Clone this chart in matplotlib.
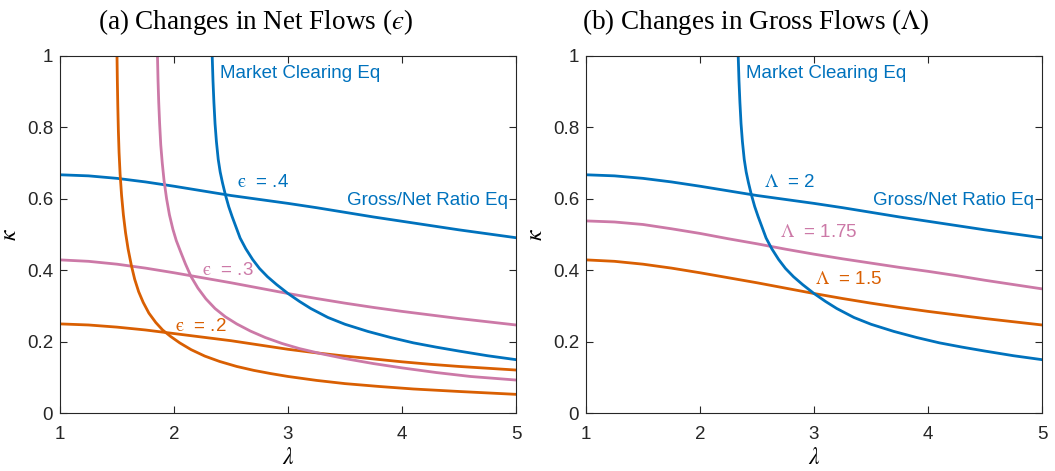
import matplotlib
matplotlib.use("Agg")
import matplotlib.pyplot as plt

plt.rcParams['mathtext.fontset'] = 'stix'
plt.rcParams['font.family'] = ['Liberation Sans', 'DejaVu Sans']

# colours (MATLAB-like)
BLUE = '#0072BD'
ORANGE = '#D95F02'
PINK = '#CC79A7'

# Market clearing curve, eps = .4 (same curve in the Lambda panel)
mc_blue_lam = [2.335, 2.342, 2.350, 2.360, 2.372, 2.388, 2.405, 2.425, 2.45, 2.48,
               2.51, 2.545, 2.58, 2.63, 2.69, 2.75, 2.82, 2.9, 3.0, 3.1,
               3.2, 3.35, 3.5, 3.7, 3.9, 4.1, 4.3, 4.5, 4.75, 5.0]
mc_blue_kap = [1.00, 0.93, 0.87, 0.81, 0.76, 0.71, 0.675, 0.645, 0.612, 0.578,
               0.55, 0.52, 0.49, 0.46, 0.43, 0.405, 0.382, 0.36, 0.335, 0.313,
               0.293, 0.268, 0.249, 0.229, 0.212, 0.197, 0.185, 0.174, 0.161, 0.15]

# Market clearing curve, eps = .3
mc_pink_lam = [1.855, 1.86, 1.866, 1.874, 1.884, 1.897, 1.913, 1.935, 1.96, 1.99,
               2.02, 2.06, 2.10, 2.15, 2.21, 2.28, 2.36, 2.45, 2.55, 2.67,
               2.8, 2.95, 3.1, 3.3, 3.5, 3.75, 4.0, 4.3, 4.6, 5.0]
mc_pink_kap = [1.00, 0.93, 0.87, 0.81, 0.75, 0.70, 0.65, 0.60, 0.555, 0.515,
               0.483, 0.45, 0.418, 0.382, 0.35, 0.32, 0.293, 0.27, 0.25, 0.23,
               0.212, 0.195, 0.181, 0.166, 0.153, 0.139, 0.127, 0.114, 0.103, 0.093]

# Market clearing curve, eps = .2
mc_orange_lam = [1.50, 1.503, 1.507, 1.512, 1.518, 1.527, 1.54, 1.556, 1.575, 1.597,
                 1.625, 1.655, 1.69, 1.73, 1.78, 1.84, 1.90, 1.97, 2.05, 2.15,
                 2.27, 2.4, 2.55, 2.7, 2.85, 3.0, 3.25, 3.5, 3.8, 4.1,
                 4.5, 5.0]
mc_orange_kap = [1.00, 0.93, 0.86, 0.79, 0.73, 0.67, 0.61, 0.555, 0.505, 0.46,
                 0.415, 0.375, 0.34, 0.31, 0.28, 0.254, 0.233, 0.215, 0.197, 0.178,
                 0.16, 0.145, 0.131, 0.12, 0.111, 0.103, 0.092, 0.083, 0.075, 0.068,
                 0.061, 0.053]

# Gross/Net ratio curves
gn_lam = [1.0, 1.25, 1.5, 1.75, 2.0, 2.25, 2.5, 2.75, 3.0, 3.25,
          3.5, 3.75, 4.0, 4.25, 4.5, 4.75, 5.0]
gn_blue_kap = [0.667, 0.664, 0.657, 0.647, 0.635, 0.622, 0.609, 0.598, 0.587, 0.575,
               0.562, 0.549, 0.537, 0.525, 0.513, 0.502, 0.491]
gn_pink_kap = [0.429, 0.425, 0.417, 0.406, 0.393, 0.379, 0.365, 0.35, 0.335, 0.321,
               0.308, 0.296, 0.285, 0.275, 0.265, 0.256, 0.247]
gn_orange_kap = [0.25, 0.247, 0.241, 0.233, 0.223, 0.213, 0.203, 0.191, 0.179, 0.169,
                 0.16, 0.152, 0.144, 0.137, 0.131, 0.126, 0.121]
gn_mid_kap = [0.538, 0.535, 0.528, 0.516, 0.503, 0.488, 0.474, 0.459, 0.445, 0.432,
              0.42, 0.408, 0.397, 0.385, 0.372, 0.36, 0.348]

xticks = [1, 2, 3, 4, 5]
yticks = [0, 0.2, 0.4, 0.6, 0.8, 1]
ytick_labels = ['0', '0.2', '0.4', '0.6', '0.8', '1']

W, H = 1055, 471
fig = plt.figure(figsize=(W / 100, H / 100), dpi=100)
ax1 = fig.add_axes([60 / W, 1 - 413.3 / H, 456 / W, 357.6 / H])
ax2 = fig.add_axes([586 / W, 1 - 413.3 / H, 456 / W, 357.6 / H])

lw = 2.0
# panel (a)
ax1.plot(gn_lam, gn_blue_kap, color=BLUE, lw=lw)
ax1.plot(gn_lam, gn_pink_kap, color=PINK, lw=lw)
ax1.plot(gn_lam, gn_orange_kap, color=ORANGE, lw=lw)
ax1.plot(mc_orange_lam, mc_orange_kap, color=ORANGE, lw=lw)
ax1.plot(mc_pink_lam, mc_pink_kap, color=PINK, lw=lw)
ax1.plot(mc_blue_lam, mc_blue_kap, color=BLUE, lw=lw)

# panel (b)
ax2.plot(gn_lam, gn_blue_kap, color=BLUE, lw=lw)
ax2.plot(gn_lam, gn_mid_kap, color=PINK, lw=lw)
ax2.plot(gn_lam, gn_pink_kap, color=ORANGE, lw=lw)
ax2.plot(mc_blue_lam, mc_blue_kap, color=BLUE, lw=lw)

fs = 13.5
for ax in (ax1, ax2):
    ax.set_xlim(1, 5)
    ax.set_ylim(0, 1)
    ax.set_xticks(xticks)
    ax.set_yticks(yticks)
    ax.set_yticklabels(ytick_labels)
    ax.tick_params(direction='in', length=5, width=0.8, top=True, right=True,
                   labelsize=fs, colors='#262626', pad=5)
    ax.tick_params(axis='x', pad=9)
    for sp in ax.spines.values():
        sp.set_color('#262626')
        sp.set_linewidth(0.8)
    ax.set_xlabel(r'$\lambda$', fontsize=17, labelpad=3)
    ax.set_ylabel(r'$\kappa$', fontsize=17, labelpad=4)
    ax.text(2.40, 0.949, 'Market Clearing Eq', color=BLUE, fontsize=fs, va='center', ha='left')
    ax.text(4.93, 0.596, 'Gross/Net Ratio Eq', color=BLUE, fontsize=fs, va='center', ha='right')

ax1.text(2.55, 0.645, r'$\mathrm{ϵ}$  = .4', color=BLUE, fontsize=fs, va='center')
ax1.text(2.25, 0.40, r'$\mathrm{ϵ}$  = .3', color=PINK, fontsize=fs, va='center')
ax1.text(2.01, 0.242, r'$\mathrm{ϵ}$  = .2', color=ORANGE, fontsize=fs, va='center')

ax2.text(2.56, 0.645, r'$\Lambda$  = 2', color=BLUE, fontsize=fs, va='center')
ax2.text(2.70, 0.505, r'$\Lambda$  = 1.75', color=PINK, fontsize=fs, va='center')
ax2.text(3.01, 0.375, r'$\Lambda$  = 1.5', color=ORANGE, fontsize=fs, va='center')

fig.text(255.5 / W, 1 - 22 / H, r'(a) Changes in Net Flows ($ϵ$)',
         fontsize=19.5, family='Liberation Serif', ha='center', va='center')
fig.text(756 / W, 1 - 22 / H, r'(b) Changes in Gross Flows ($\Lambda$)',
         fontsize=19.5, family='Liberation Serif', ha='center', va='center')

fig.savefig('out.png', dpi=100)
